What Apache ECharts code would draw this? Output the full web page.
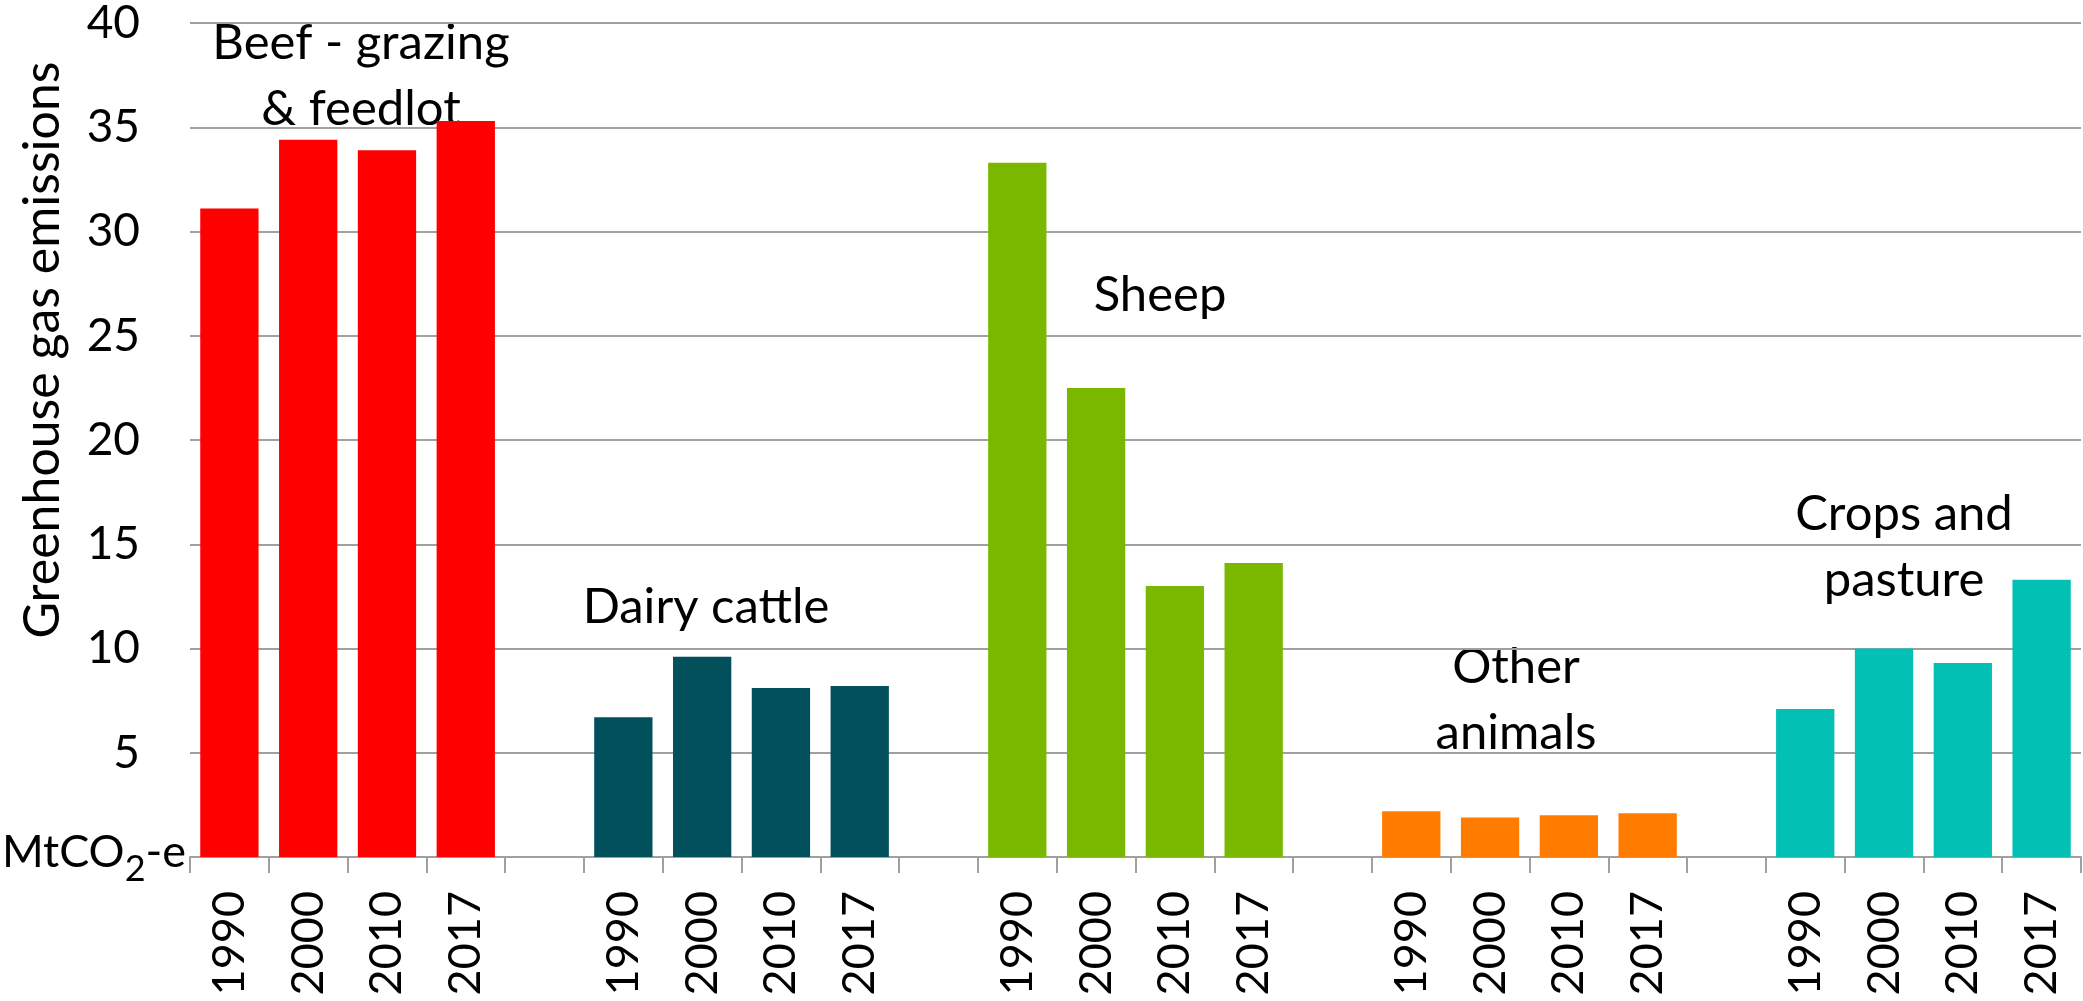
<!DOCTYPE html>
<html><head><meta charset="utf-8">
<script src="https://cdn.jsdelivr.net/npm/echarts@6/dist/echarts.min.js"></script>
<style>html,body{margin:0;padding:0;background:#fff}#c{width:2083px;height:1001px}</style>
</head><body><div id="c"></div>
<script>
const years = ['1990', '2000', '2010', '2017'];
const groupNames = ['Beef - grazing\n& feedlot', 'Dairy cattle', 'Sheep', 'Other\nanimals', 'Crops and\npasture'];
const beef = [31.1, 34.4, 33.9, 35.3];
const dairy = [6.7, 9.6, 8.1, 8.2];
const sheep = [33.3, 22.5, 13.0, 14.1];
const other = [2.2, 1.9, 2.0, 2.1];
const crops = [7.1, 10.0, 9.3, 13.3];
const groupColors = ['#ff0000', '#02505c', '#7ab800', '#ff7c00', '#02c0b4'];
const yTicks = [0, 5, 10, 15, 20, 25, 30, 35, 40];

const FONT = 'Lato';
const groups = [beef, dairy, sheep, other, crops];
const cats = [];
const barData = [];
groups.forEach((g, gi) => {
  if (gi > 0) { cats.push(' '.repeat(gi)); barData.push(null); }
  g.forEach((v, i) => {
    cats.push(years[i]);
    barData.push({ value: v, itemStyle: { color: groupColors[gi] } });
  });
});

const chart = echarts.init(document.getElementById('c'));
// annotation placement (pixel layout only)
const annPos = [[361, 76], [706, 607], [1160, 295], [1516, 700], [1904, 547]];
const graphics = groupNames.map((t, i) => ({
  type: 'text', x: annPos[i][0], y: annPos[i][1],
  style: { text: t, fontFamily: FONT, fontSize: 49, lineHeight: 66, fill: '#000', align: 'center', verticalAlign: 'middle' }
}));
graphics.push({
  type: 'text', x: 43, y: 350, rotation: Math.PI / 2,
  style: { text: 'Greenhouse gas emissions', fontFamily: FONT, fontSize: 50, fill: '#000', align: 'center', verticalAlign: 'middle' }
});
graphics.push({
  type: 'text', x: 186, y: 830,
  style: {
    text: '{a|MtCO}{b|2}{a|-e}', align: 'right', verticalAlign: 'top',
    rich: {
      a: { fontFamily: FONT, fontSize: 45, lineHeight: 36, verticalAlign: 'top', fill: '#000' },
      b: { fontFamily: FONT, fontSize: 36, lineHeight: 78, verticalAlign: 'middle', fill: '#000' }
    }
  }
});

chart.setOption({
  animation: false,
  grid: { left: 190, right: 2, top: 23, bottom: 144 },
  xAxis: {
    type: 'category', data: cats,
    axisLine: { lineStyle: { color: '#a0a0a0', width: 2 } },
    axisTick: { show: true, length: 16, lineStyle: { color: '#a0a0a0', width: 2 } },
    axisLabel: { rotate: 90, margin: 34, fontFamily: FONT, fontSize: 45, color: '#000', interval: 0 },
    splitLine: { show: false }
  },
  yAxis: {
    type: 'value', min: yTicks[0], max: yTicks[yTicks.length - 1], interval: 5,
    axisLine: { show: false }, axisTick: { show: false },
    axisLabel: { margin: 50, fontFamily: FONT, fontSize: 46, color: '#000', formatter: v => v === 0 ? '' : String(v) },
    splitLine: { lineStyle: { color: '#a0a0a0', width: 2 } }
  },
  series: [{ type: 'bar', data: barData, barWidth: '74%' }],
  graphic: graphics
});
</script></body></html>
